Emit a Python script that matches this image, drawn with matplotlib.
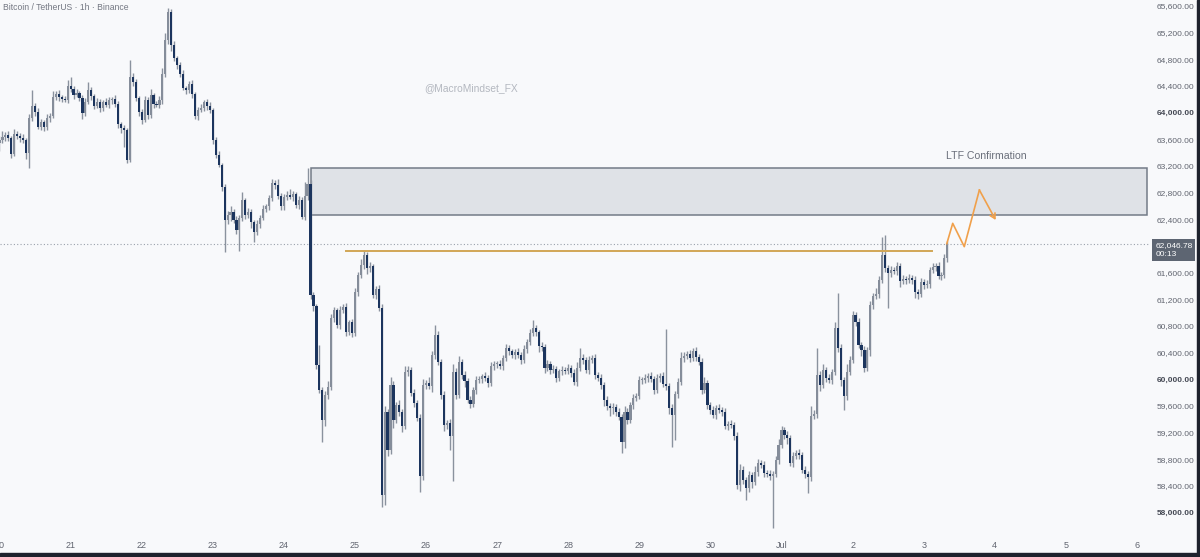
import matplotlib.pyplot as plt
import matplotlib.transforms as mtransforms
from matplotlib.patches import Rectangle
import numpy as np

plt.rcParams["font.family"] = ["Liberation Sans", "DejaVu Sans"]

# BTCUSDT 1h candles from 20 Jun 00:00, x = hours since then
first_open = 63560
closes = [
    # 20
    63605, 63650, 63680, 63635, 63395, 63695, 63665, 63635, 63605, 63410, 63935, 64115,
    64025, 63800, 63875, 63800, 63935, 63965, 64250, 64295, 64250, 64220, 64205, 64415,
    # 21
    64370, 64280, 64310, 64235, 64010, 64175, 64355, 64265, 64115, 64175, 64085, 64175,
    64130, 64205, 64220, 64145, 63845, 63785, 63755, 63305, 64550, 64475, 64235, 64025,
    # 22
    63905, 64205, 63980, 64280, 64145, 64130, 64205, 64595, 65105, 65525, 65030, 64835,
    64730, 64595, 64385, 64355, 64445, 64295, 63965, 64055, 64085, 64175, 64115, 64055,
    # 23
    63605, 63380, 63230, 62900, 62405, 62480, 62525, 62405, 62255, 62435, 62705, 62480,
    62525, 62375, 62225, 62345, 62435, 62570, 62615, 62735, 62960, 62930, 62765, 62615,
    # 24
    62750, 62780, 62750, 62795, 62630, 62705, 62450, 62765, 62945, 61280, 61115, 60230,
    59855, 59405, 59780, 59900, 60935, 61055, 60830, 61055, 61100, 60725, 60875, 60710,
    # 25
    61325, 61580, 61730, 61880, 61685, 61715, 61280, 61370, 61085, 58280, 59525, 58955,
    59930, 59405, 59630, 59525, 59315, 60125, 60155, 59810, 59660, 59435, 58565, 59930,
    # 26
    59960, 59915, 60380, 60680, 60275, 59780, 59330, 59360, 59165, 60125, 59780, 60275,
    60080, 59990, 59705, 59645, 59855, 60005, 60020, 60065, 60035, 59960, 60215, 60245,
    # 27
    60245, 60215, 60335, 60485, 60440, 60380, 60425, 60380, 60305, 60470, 60575, 60710,
    60785, 60725, 60515, 60500, 60185, 60245, 60155, 60170, 60035, 60140, 60155, 60140,
    # 28
    60185, 60110, 59975, 60185, 60335, 60305, 60155, 60305, 60335, 60080, 60035, 59930,
    59705, 59615, 59585, 59600, 59525, 59450, 59075, 59525, 59405, 59630, 59735, 59765,
    # 29
    60005, 60005, 60035, 60065, 60020, 59855, 60035, 60065, 59945, 59915, 59585, 59480,
    59795, 59975, 60335, 60365, 60395, 60335, 60440, 60350, 60275, 59855, 59960, 59630,
    # 30
    59555, 59480, 59585, 59555, 59525, 59315, 59345, 59330, 59165, 58430, 58655, 58505,
    58385, 58580, 58475, 58625, 58760, 58730, 58610, 58595, 58565, 58595, 58805, 59030,
    # Jul 1
    59255, 59180, 59135, 58760, 58865, 58910, 58880, 58655, 58595, 58550, 59465, 59495,
    60080, 59930, 60155, 60035, 60005, 60125, 60785, 60485, 60005, 59765, 60125, 60305,
    # Jul 2
    60980, 60875, 60530, 60455, 60185, 60455, 61130, 61265, 61295, 61505, 61880, 61685,
    61610, 61655, 61640, 61715, 61490, 61520, 61505, 61535, 61505, 61325, 61295, 61475,
    # Jul 3
    61430, 61445, 61655, 61700, 61715, 61565, 61580, 61835, 62046.78,
]
# wick length above / below the body
upper_wick = [
    60, 90, 45, 60, 30, 75, 45, 40, 60, 30, 60, 240, 45, 60, 45, 30, 60, 45, 90, 45, 60, 30, 45, 90,
    135, 45, 60, 30, 45, 60, 120, 45, 30, 60, 45, 30, 60, 45, 30, 60, 45, 30, 45, 30, 255, 60, 45, 30,
    45, 60, 45, 90, 30, 45, 60, 90, 105, 60, 45, 60, 30, 45, 60, 30, 45, 60, 30, 45, 60, 30, 45, 60,
    30, 45, 60, 30, 45, 60, 90, 45, 60, 45, 120, 30, 60, 45, 30, 60, 45, 60, 30, 45, 60, 45, 90, 45,
    45, 60, 90, 45, 30, 60, 45, 210, 240, 60, 45, 30, 300, 45, 60, 90, 60, 45, 30, 60, 45, 60, 30, 45,
    60, 45, 90, 60, 45, 60, 30, 45, 60, 60, 90, 45, 120, 60, 45, 75, 45, 90, 60, 45, 60, 45, 60, 90,
    45, 90, 60, 150, 60, 45, 60, 45, 60, 120, 60, 90, 45, 60, 45, 60, 45, 60, 45, 30, 60, 45, 60, 45,
    45, 60, 45, 60, 45, 30, 45, 60, 45, 60, 45, 60, 120, 45, 30, 60, 45, 60, 45, 60, 45, 30, 60, 45,
    60, 45, 60, 90, 150, 60, 45, 60, 45, 60, 45, 60, 45, 60, 45, 60, 45, 60, 45, 90, 60, 45, 60, 45,
    60, 45, 60, 45, 60, 45, 60, 45, 60, 825, 45, 60, 45, 60, 90, 60, 45, 60, 45, 60, 45, 60, 90, 45,
    45, 60, 45, 60, 45, 60, 45, 60, 45, 60, 90, 60, 45, 60, 45, 90, 60, 45, 60, 45, 60, 45, 60, 90,
    60, 45, 60, 45, 60, 45, 60, 45, 60, 45, 150, 60, 400, 60, 90, 45, 60, 45, 90, 525, 60, 45, 120, 60,
    60, 45, 60, 45, 60, 45, 60, 45, 90, 60, 270, 300, 45, 60, 45, 60, 45, 60, 45, 60, 45, 60, 45, 60,
    45, 60, 45, 60, 45, 60, 45, 60, 45,
]
lower_wick = [
    120, 45, 60, 45, 60, 30, 45, 60, 45, 90, 225, 45, 60, 30, 45, 60, 45, 60, 30, 45, 60, 45, 30, 45,
    45, 60, 30, 45, 90, 45, 30, 60, 45, 30, 60, 45, 30, 45, 60, 45, 60, 75, 255, 45, 30, 60, 45, 60,
    60, 30, 60, 45, 60, 30, 45, 60, 45, 60, 90, 45, 60, 45, 30, 60, 45, 60, 45, 60, 30, 45, 60, 45,
    60, 45, 30, 60, 480, 60, 90, 45, 60, 315, 45, 60, 45, 90, 150, 45, 60, 30, 45, 60, 45, 60, 45, 60,
    60, 45, 30, 60, 45, 60, 30, 45, 60, 60, 75, 60, 45, 330, 90, 60, 45, 60, 45, 60, 45, 60, 45, 60,
    45, 60, 45, 60, 90, 60, 45, 60, 45, 180, 150, 90, 60, 120, 45, 60, 90, 45, 60, 45, 60, 45, 240, 60,
    60, 45, 90, 60, 45, 60, 90, 60, 210, 675, 60, 45, 60, 90, 45, 60, 45, 60, 45, 60, 45, 60, 45, 60,
    60, 45, 60, 45, 60, 45, 60, 45, 60, 45, 60, 45, 45, 60, 90, 60, 75, 45, 60, 45, 60, 45, 60, 45,
    45, 60, 45, 60, 45, 60, 45, 60, 45, 60, 45, 60, 90, 60, 120, 90, 60, 45, 165, 90, 60, 45, 60, 45,
    45, 60, 45, 60, 45, 60, 45, 60, 45, 60, 90, 480, 375, 60, 45, 60, 45, 60, 45, 60, 45, 60, 45, 60,
    60, 45, 60, 45, 60, 45, 60, 45, 60, 60, 90, 60, 180, 60, 90, 45, 60, 45, 60, 45, 60, 780, 45, 60,
    45, 60, 90, 45, 60, 45, 60, 45, 60, 240, 60, 45, 60, 90, 45, 60, 45, 60, 45, 60, 90, 210, 60, 45,
    45, 60, 45, 90, 60, 45, 90, 60, 45, 60, 45, 60, 525, 60, 45, 60, 90, 45, 60, 45, 60, 90, 75, 45,
    60, 45, 60, 45, 60, 45, 60, 45, 60,
]

day_labels = ["20", "21", "22", "23", "24", "25", "26", "27", "28", "29", "30",
              "Jul", "2", "3", "4", "5", "6"]
price_ticks = [58000, 58400, 58800, 59200, 59600, 60000, 60400, 60800, 61200, 61600,
               62400, 62800, 63200, 63600, 64000, 64400, 64800, 65200, 65600]
strong_ticks = [58000, 60000, 64000]

last_price = 62046.78
countdown = "00:13"

# drawings
zone_start, zone_end = 105.2, 387.4
zone_bottom, zone_top = 62480, 63185
level_price = 61940
level_start, level_end = 117.0, 314.8
path_hours = [319.8, 321.8, 325.7, 330.8, 336.3]
path_prices = [62050, 62355, 62005, 62855, 62405]
note_hour, note_price = 333.3, 63370

up_color = "#858d9a"
down_color = "#1c355e"
wick_color = "#8a929e"
text_color = "#60646f"
bg = "#f8f9fb"

o = np.array([first_open] + closes[:-1], dtype=float)
c = np.array(closes, dtype=float)
hi = np.maximum(o, c) + np.array(upper_wick)
lo = np.minimum(o, c) - np.array(lower_wick)
x = np.arange(len(c))
rising = c >= o

fig = plt.figure(figsize=(12, 5.57), dpi=100)
fig.patch.set_facecolor(bg)
ax = fig.add_axes([0, 22 / 557, 1150 / 1200, 535 / 557])
ax.set_facecolor(bg)
ax.set_xlim(0.17, 388.4)
ax.set_ylim(57680, 65705)
for s in ax.spines.values():
    s.set_visible(False)
ax.set_xticks([])
ax.set_yticks([])

# zone box
ax.add_patch(Rectangle((zone_start, zone_bottom), zone_end - zone_start, zone_top - zone_bottom,
                       facecolor="#dfe2e7", edgecolor="#737b87", linewidth=1.1, zorder=1))

# candles
ax.vlines(x, lo, hi, color=wick_color, linewidth=1.0, zorder=2)
body_h = np.maximum(np.abs(c - o), 14)
ax.bar(x, body_h, bottom=np.minimum(o, c), width=0.72,
       color=np.where(rising, up_color, down_color), linewidth=0, zorder=3)

# current price line
ax.axhline(last_price, color="#9aa1ab", linewidth=0.8, linestyle=(0, (1, 2)), zorder=1)

# horizontal level
ax.plot([level_start, level_end], [level_price, level_price], color="#d1a656", linewidth=1.4, zorder=4)

# projected path
ax.plot(path_hours[:-1], path_prices[:-1], color="#f0a04b", linewidth=1.2, zorder=5)
ax.annotate("", xy=(path_hours[-1], path_prices[-1]), xytext=(path_hours[-2], path_prices[-2]),
            arrowprops=dict(arrowstyle="->,head_length=0.35,head_width=0.2", color="#f0a04b",
                            linewidth=1.2, shrinkA=0, shrinkB=0), zorder=5)
ax.text(note_hour, note_price, "LTF Confirmation", ha="center", va="center",
        fontsize=7.6, color="#6a6f7b")

# price scale
ytrans = mtransforms.blended_transform_factory(ax.transAxes, ax.transData)
for p in price_ticks:
    strong = p in strong_ticks
    ax.text(1.0055, p, f"{p:,.2f}", transform=ytrans, ha="left", va="center", fontsize=6,
            color="#454954" if strong else text_color, fontweight="bold" if strong else "normal",
            clip_on=False)
label_trans = ytrans + mtransforms.ScaledTranslation(0, -6 / 100, fig.dpi_scale_trans)
ax.text(1.0045, last_price, f"{last_price:,.2f}\n{countdown}", transform=label_trans, ha="left",
        va="center", fontsize=6, color="white", linespacing=1.35, clip_on=False,
        bbox=dict(boxstyle="square,pad=0.35", facecolor="#5d6572", edgecolor="none"))

# time scale
xtrans = mtransforms.blended_transform_factory(ax.transData, fig.transFigure)
for k, lab in enumerate(day_labels):
    ax.text(k * 24, 1 - 545 / 557, lab, transform=xtrans, ha="center", va="center",
            fontsize=6.5, color=text_color, clip_on=False)

fig.text(3 / 1200, 1 - 8 / 557, "Bitcoin / TetherUS · 1h · Binance", ha="left", va="center",
         fontsize=6.2, color="#737782")
fig.text(471 / 1200, 1 - 88 / 557, "@MacroMindset_FX", ha="center", va="center",
         fontsize=7.4, color="#b4b8c0")

# frame edges
fig.add_artist(Rectangle((0, 0), 1, 4 / 557, transform=fig.transFigure, color="#1e222d"))
fig.add_artist(Rectangle((1197 / 1200, 0), 3 / 1200, 1, transform=fig.transFigure, color="#1e222d"))

fig.savefig("out.png", dpi=100, facecolor=bg)
